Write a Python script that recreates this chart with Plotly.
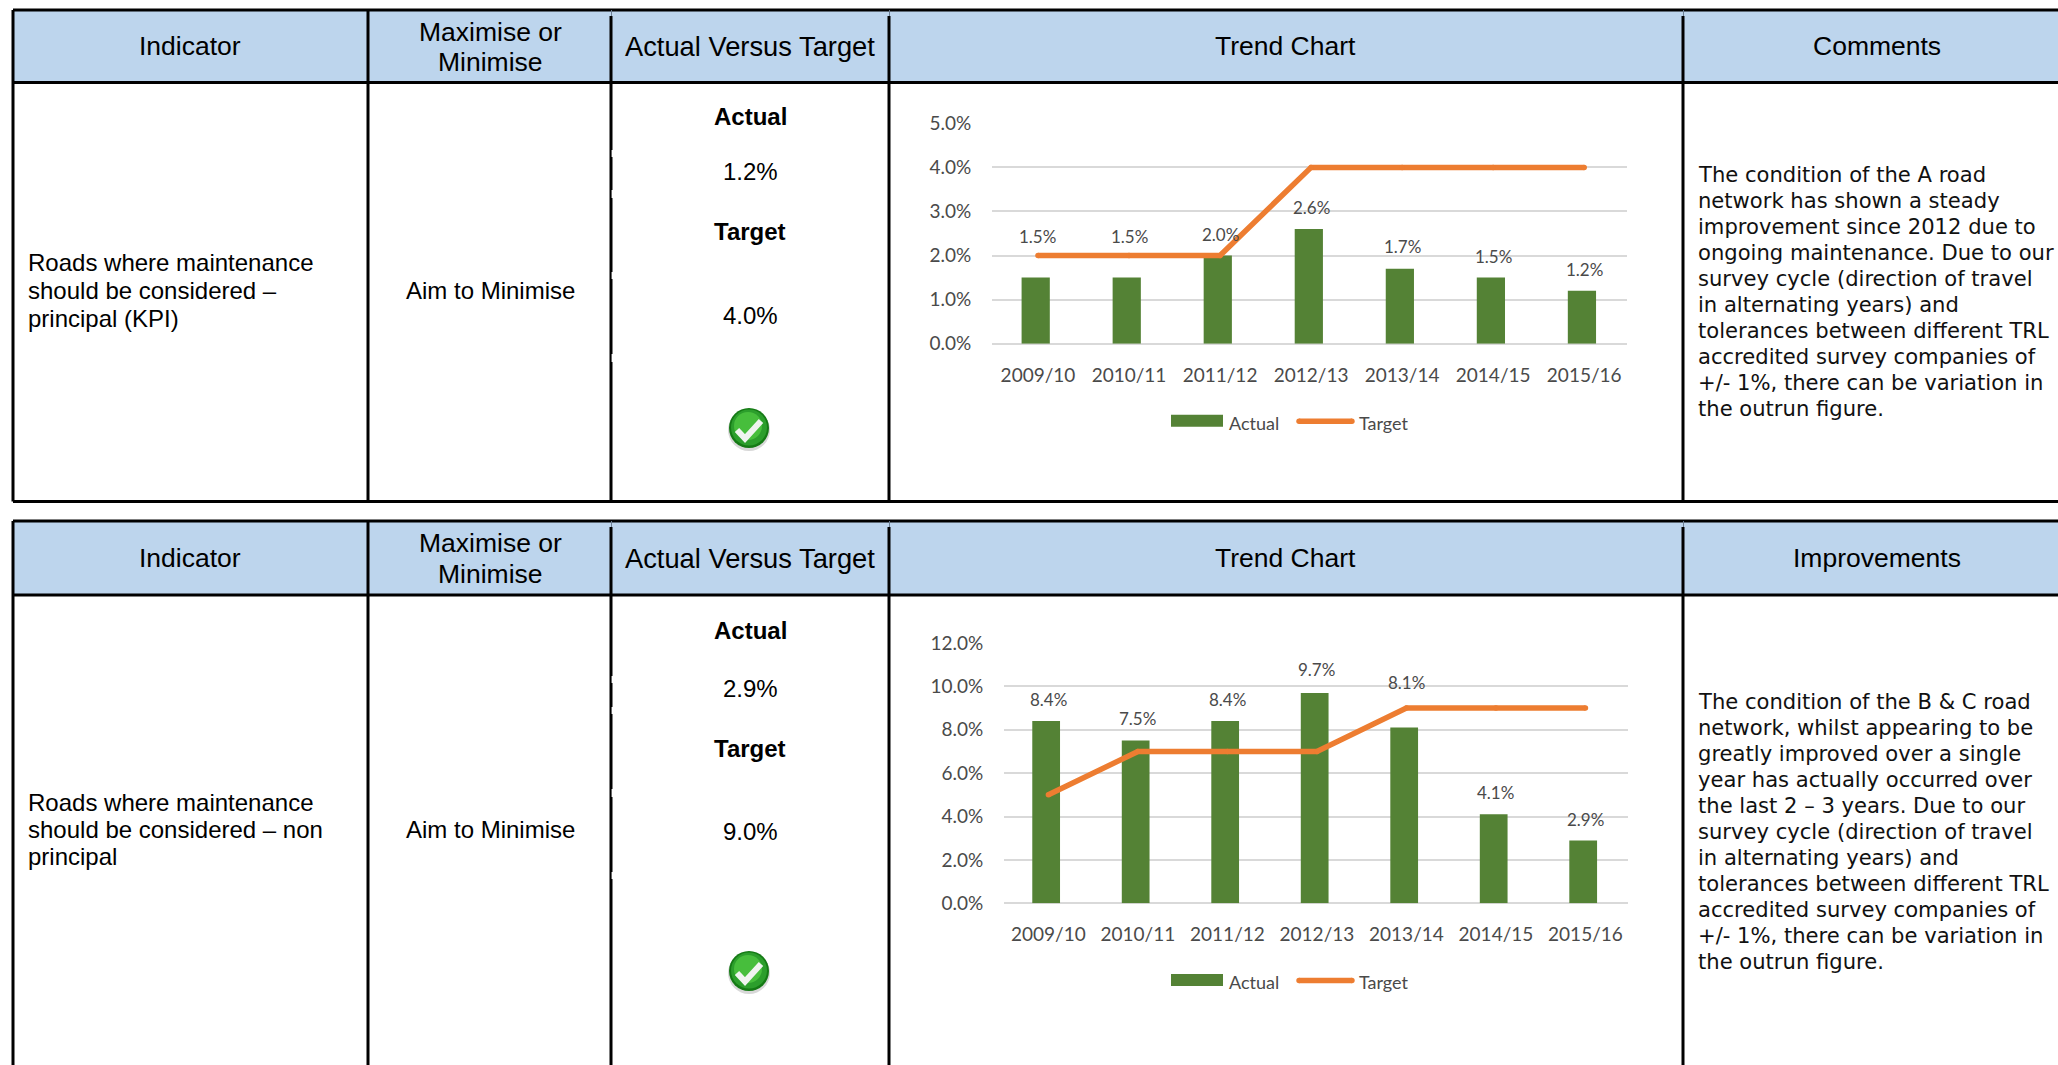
import plotly.graph_objects as go

W, H = 2058, 1065

# ---- data ----
years = ["2009/10", "2010/11", "2011/12", "2012/13", "2013/14", "2014/15", "2015/16"]
actual_principal = [1.5, 1.5, 2.0, 2.6, 1.7, 1.5, 1.2]
target_principal = [2.0, 2.0, 2.0, 4.0, 4.0, 4.0, 4.0]
actual_non_principal = [8.4, 7.5, 8.4, 9.7, 8.1, 4.1, 2.9]
target_non_principal = [5.0, 7.0, 7.0, 7.0, 9.0, 9.0, 9.0]

comments_a = ["The condition of the A road", "network has shown a steady",
              "improvement since 2012 due to", "ongoing maintenance. Due to our",
              "survey cycle (direction of travel", "in alternating years) and",
              "tolerances between different TRL", "accredited survey companies of",
              "+/- 1%, there can be variation in", "the outrun figure."]
comments_b = ["The condition of the B & C road", "network, whilst appearing to be",
              "greatly improved over a single", "year has actually occurred over",
              "the last 2 – 3 years. Due to our", "survey cycle (direction of travel",
              "in alternating years) and", "tolerances between different TRL",
              "accredited survey companies of", "+/- 1%, there can be variation in",
              "the outrun figure."]
indicator_a = ["Roads where maintenance", "should be considered –", "principal (KPI)"]
indicator_b = ["Roads where maintenance", "should be considered – non", "principal"]

# ---- styling ----
HEAD = "#BDD5ED"
GREEN = "#548235"
ORANGE = "#ED7D31"
GRID = "#D9D9D9"
CHART_TXT = "#4A4A4A"
ARIAL = "Liberation Sans"
COLS = [368, 611, 889, 1683]


def px(x):
    return x / W


def py(y):
    return 1 - y / H


shapes, notes = [], []


def rect(x0, y0, x1, y1, fill):
    shapes.append(dict(type="rect", xref="paper", yref="paper", x0=px(x0), x1=px(x1), y0=py(y0), y1=py(y1),
                       fillcolor=fill, line_width=0, layer="below"))


def line(x0, y0, x1, y1, color="#000000", width=3, layer="below"):
    shapes.append(dict(type="line", xref="paper", yref="paper", x0=px(x0), x1=px(x1), y0=py(y0), y1=py(y1),
                       line=dict(color=color, width=width), layer=layer))


def circle(cx, cy, r, fill):
    shapes.append(dict(type="circle", xref="paper", yref="paper", x0=px(cx - r), x1=px(cx + r),
                       y0=py(cy + r), y1=py(cy - r), fillcolor=fill, line_width=0, layer="above"))


def text(x, y, s, size=24, anchor="center", font=ARIAL, color="#000000", bold=False):
    if bold:
        s = "<b>" + s + "</b>"
    notes.append(dict(xref="paper", yref="paper", x=px(x), y=py(y), text=s, showarrow=False,
                      xanchor=anchor, yanchor="middle", align=anchor, borderpad=0,
                      font=dict(family=font, size=size, color=color)))


def check_icon(cx, cy):
    circle(cx, cy + 2, 21, "#D8D8D8")
    circle(cx, cy, 20, "#157A15")
    circle(cx, cy - 0.5, 18, "#2C9E2C")
    circle(cx - 1, cy - 2, 14, "#47BE3C")
    x = [cx - 12, cx - 4, cx + 12]
    y = [cy + 2, cy + 10.5, cy - 7]
    path = "M{} {} L{} {} L{} {}".format(px(x[0]), py(y[0]), px(x[1]), py(y[1]), px(x[2]), py(y[2]))
    shapes.append(dict(type="path", xref="paper", yref="paper", path=path, layer="above",
                       line=dict(color="#F0F4F0", width=6)))


def table(top, head_bot, bottom, head_right, indicator, ind_y, comments, com_y, ys, vals, check_y, notches):
    rect(13, top, W, head_bot, HEAD)
    line(13, top, W, top)
    line(13, head_bot, W, head_bot)
    if bottom is not None:
        line(13, bottom, W, bottom)
    end = bottom if bottom is not None else H
    line(13, top, 13, end)
    for c in COLS:
        start = top + 6 if c != 368 else top
        line(c, start, c, end)
        if c != 368:
            line(c + 0.5, top, c + 0.5, start, color="#6A7C90", width=1)
    for a, b in notches:
        line(612.3, a, 612.3, b, color="#FFFFFF", width=1.4)
    h = (top + head_bot) / 2
    text(190, h, "Indicator", 26.5)
    text(490, ys["max1"], "Maximise or", 26.5)
    text(490, ys["max2"], "Minimise", 26.5)
    text(750, h, "Actual Versus Target", 27.3)
    text(1285, h, "Trend Chart", 26.5)
    text(1877, h, head_right, 26.5)
    for i, s in enumerate(indicator):
        text(27, ind_y + i * ys["ind"], s, 24, "left")
    text(490, ind_y + ys["ind"], "Aim to Minimise", 24)
    text(750, ys["a"], "Actual", 24, bold=True)
    text(750, ys["av"], vals[0], 24)
    text(750, ys["t"], "Target", 24, bold=True)
    text(750, ys["tv"], vals[1], 24)
    check_icon(749, check_y)
    for i, s in enumerate(comments):
        text(1696.5, com_y + i * 26, s, 21.1, "left", font="DejaVu Sans", color="#111111")


table(10, 82.5, 501.5, "Comments", indicator_a, 263, comments_a, 174.5,
      dict(max1=32, max2=62, ind=27.5, a=117, av=172, t=232, tv=315), ["1.2%", "4.0%"], 428,
      [(150, 157), (190, 198), (272, 279), (354, 362)])
table(521, 595, None, "Improvements", indicator_b, 802.5, comments_b, 701.5,
      dict(max1=542.5, max2=573.5, ind=27, a=630, av=688, t=748, tv=831), ["2.9%", "9.0%"], 971,
      [(676, 683), (707, 714), (789, 797), (872, 879)])

fig = go.Figure()


def chart(n, actual, target, xdom, ydom, xrange, ymax, dtick, lifts, legend_y):
    xa, ya = ("x", "y") if n == 1 else ("x2", "y2")
    fig.add_trace(go.Bar(x=years, y=actual, name="Actual", marker=dict(color=GREEN, line_width=0),
                         width=0.31, offset=-0.18, showlegend=False, xaxis=xa, yaxis=ya))
    fig.add_trace(go.Scatter(x=years, y=target, name="Target", mode="lines+markers",
                             line=dict(color=ORANGE, width=5.5), marker=dict(color=ORANGE, size=5.5),
                             showlegend=False, xaxis=xa, yaxis=ya))
    xk, yk = ("xaxis", "yaxis") if n == 1 else ("xaxis2", "yaxis2")
    fig.layout[xk] = dict(domain=[px(xdom[0]), px(xdom[1])], range=xrange, type="category", categoryarray=years,
                          showgrid=False, zeroline=False, showline=False, ticks="outside", ticklen=14,
                          tickcolor="rgba(0,0,0,0)", tickfont=dict(family="Lato", size=19, color=CHART_TXT),
                          anchor=ya, fixedrange=True)
    fig.layout[yk] = dict(domain=[py(ydom[1]), py(ydom[0])], range=[0, ymax], dtick=dtick, tickformat=".1f",
                          ticksuffix="%", showgrid=True, gridcolor=GRID, gridwidth=2, zeroline=True,
                          zerolinecolor=GRID, zerolinewidth=2, showline=False, ticks="outside", ticklen=16,
                          tickcolor="rgba(0,0,0,0)", tickfont=dict(family="Lato", size=19, color=CHART_TXT),
                          anchor=xa, fixedrange=True)
    for i, (c, v) in enumerate(zip(years, actual)):
        notes.append(dict(xref=xa, yref=ya, x=c, y=v, text="{:.1f}%".format(v), showarrow=False, xanchor="center",
                          yanchor="middle", yshift=lifts[i], xshift=0,
                          font=dict(family="Lato", size=17, color=CHART_TXT)))
    rect(1171, legend_y - 6, 1223, legend_y + 6, GREEN)
    line(1299, legend_y + 0.5, 1352, legend_y + 0.5, color=ORANGE, width=5.5)
    circle(1299, legend_y + 0.5, 2.7, ORANGE)
    circle(1352, legend_y + 0.5, 2.7, ORANGE)
    text(1228, legend_y + 2, "Actual", 18, "left", font="Lato", color=CHART_TXT)
    text(1358, legend_y + 2, "Target", 18, "left", font="Lato", color=CHART_TXT)


chart(1, actual_principal, target_principal, (992, 1627), (123.3, 343.7), [-0.505, 6.47], 5, 1,
      [41, 41, 21, 22, 22, 21, 21], 420.7)
chart(2, actual_non_principal, target_non_principal, (1004, 1627.5), (643, 903.3), [-0.496, 6.47], 12, 2,
      [22, 22, 22, 23, 45, 22, 21], 980)

fig.update_layout(width=W, height=H, autosize=False, margin=dict(l=0, r=0, t=0, b=0, pad=0, autoexpand=False),
                  paper_bgcolor="#FFFFFF", plot_bgcolor="rgba(0,0,0,0)", showlegend=False,
                  shapes=shapes, annotations=notes, hovermode=False)

fig.write_html("out.html", config=dict(displayModeBar=False),
               post_script="document.body.style.margin='0';document.body.style.overflow='hidden';")
